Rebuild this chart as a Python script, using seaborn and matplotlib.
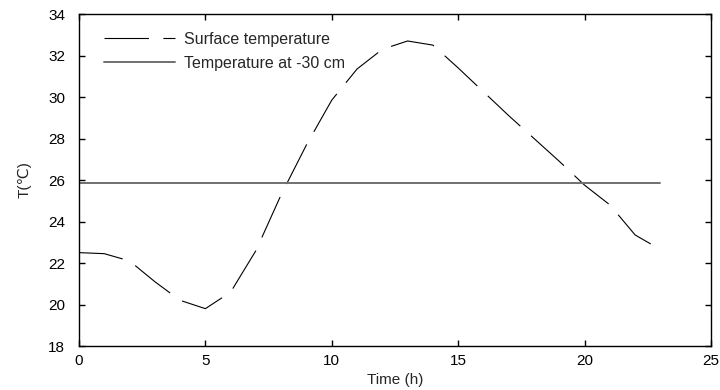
import matplotlib
matplotlib.use("Agg")
import matplotlib.pyplot as plt
import seaborn as sns
import pandas as pd

hours = list(range(24))
surface_temp = [22.5, 22.45, 22.1, 21.1, 20.2, 19.8, 20.6, 22.6, 25.3, 27.7,
                29.85, 31.35, 32.3, 32.7, 32.5, 31.4, 30.25, 29.1, 28.0, 26.9,
                25.75, 24.8, 23.35, 22.65]
deep_temp = [25.87] * 24
x_ticks = [0, 5, 10, 15, 20, 25]
y_ticks = [18, 20, 22, 24, 26, 28, 30, 32, 34]

df = pd.DataFrame({"Time": hours, "Surface": surface_temp, "Deep": deep_temp})

sns.set_style("ticks")
plt.rcParams["font.family"] = ["Liberation Sans", "DejaVu Sans"]

fig = plt.figure(figsize=(7.2, 3.9), dpi=100)
ax = fig.add_axes([0.1097, 0.1128, 0.8778, 0.8513])

sns.lineplot(data=df, x="Time", y="Surface", ax=ax, color="black", lw=0.8,
             dashes=False, label="Surface temperature")
ax.lines[-1].set_dashes([40, 13])
sns.lineplot(data=df, x="Time", y="Deep", ax=ax, color="#707070", lw=1.4,
             label="Temperature at -30 cm")

ax.set_xlim(0, 25)
ax.set_ylim(18, 34)
ax.set_xticks(x_ticks)
ax.set_yticks(y_ticks)
ax.tick_params(direction="in", top=True, right=True, length=4, width=1,
               labelsize=11, colors="black")
ax.tick_params(axis="y", pad=10)
ax.tick_params(axis="x", pad=6)
for s in ax.spines.values():
    s.set_linewidth(1.0)
    s.set_color("black")

ax.set_xlabel("Time (h)", fontsize=11, labelpad=3)
ax.set_ylabel("T(℃)", fontsize=11, labelpad=12)

leg = ax.legend(loc="upper left", bbox_to_anchor=(0.025, 0.975), frameon=False,
                fontsize=11.5, handlelength=4.4, handletextpad=0.6,
                labelspacing=0.55, borderaxespad=0.2)

fig.savefig("out.png", dpi=100)
